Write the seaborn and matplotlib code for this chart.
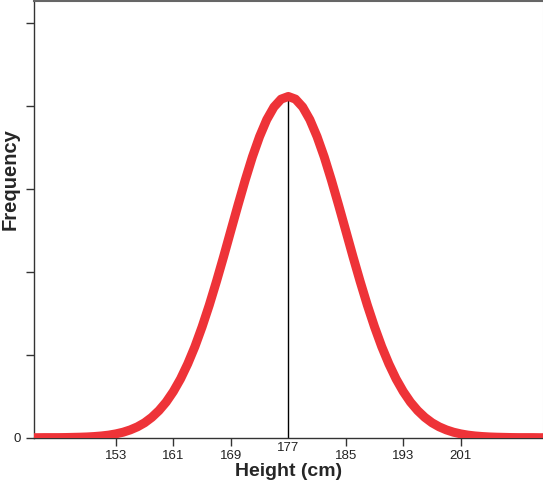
import numpy as np
import pandas as pd
import matplotlib
matplotlib.use("Agg")
import matplotlib.pyplot as plt
import seaborn as sns

# Normal curve of heights (frequency units, peak at 177)
heights = list(range(141, 214))
freq = [0.0, 0.0, 0.01, 0.01, 0.01, 0.02, 0.04, 0.06, 0.09, 0.14, 0.21, 0.31,
        0.46, 0.66, 0.94, 1.31, 1.80, 2.45, 3.27, 4.29, 5.56, 7.08, 8.89,
        10.97, 13.35, 15.97, 18.82, 21.82, 24.93, 28.02, 31.02, 33.82, 36.27,
        38.31, 39.83, 40.78, 41.1,
        40.78, 39.83, 38.31, 36.27, 33.82, 31.02, 28.02, 24.93, 21.82, 18.82,
        15.97, 13.35, 10.97, 8.89, 7.08, 5.56, 4.29, 3.27, 2.45, 1.80, 1.31,
        0.94, 0.66, 0.46, 0.31, 0.21, 0.14, 0.09, 0.06, 0.04, 0.02, 0.01,
        0.01, 0.01, 0.0, 0.0]
tick_vals = [153, 161, 169, 177, 185, 193, 201]
ytick_vals = [0, 10, 20, 30, 40, 50]

df = pd.DataFrame({"Height": heights, "Frequency": freq})

sns.set_style("ticks")
plt.rcParams["font.family"] = ["Liberation Sans", "DejaVu Sans"]

fig = plt.figure(figsize=(5.43, 4.80), dpi=100)
ax = fig.add_axes([33.6 / 543, 42.3 / 480, 509.4 / 543, 436.7 / 480])

# vertical line at the peak, under the curve
peak = int(np.argmax(freq))
ax.vlines(heights[peak], 0, freq[peak], color="black", linewidth=1.0, zorder=2)

sns.lineplot(data=df, x="Height", y="Frequency", color="#ee3338",
             linewidth=6.5, ax=ax, zorder=3,
             solid_joinstyle="round", solid_capstyle="round")

ax.set_xlim(141.55, 212.45)
ax.set_ylim(0, 52.6)

ax.set_xticks(tick_vals)
ax.set_xticklabels([str(v) for v in tick_vals], fontsize=9.5)
ax.set_yticks(ytick_vals)
ax.set_yticklabels(["0"] + [""] * (len(ytick_vals) - 1), fontsize=9.5)
ax.tick_params(axis="both", direction="out", length=5.5, width=1.0,
               color="#333333", labelcolor="#222222")
ax.tick_params(axis="x", pad=3)

# 177 has no tick mark and its label sits higher
t177 = ax.xaxis.get_major_ticks()[tick_vals.index(177)]
t177.tick1line.set_visible(False)
t177.set_pad(-2.5)

for side in ["left", "bottom"]:
    ax.spines[side].set_color("#333333")
    ax.spines[side].set_linewidth(1.0)
ax.spines["top"].set_color("#666666")
ax.spines["top"].set_linewidth(1.5)
ax.spines["right"].set_color("#dddddd")

ax.set_xlabel("Height (cm)", fontsize=14, fontweight="bold", va="center")
ax.set_ylabel("Frequency", fontsize=14.5, fontweight="bold", va="center")
ax.xaxis.set_label_coords(0.5, -0.0785)
ax.yaxis.set_label_coords(-0.0463, 0.592)

fig.savefig("out.png", dpi=100)
